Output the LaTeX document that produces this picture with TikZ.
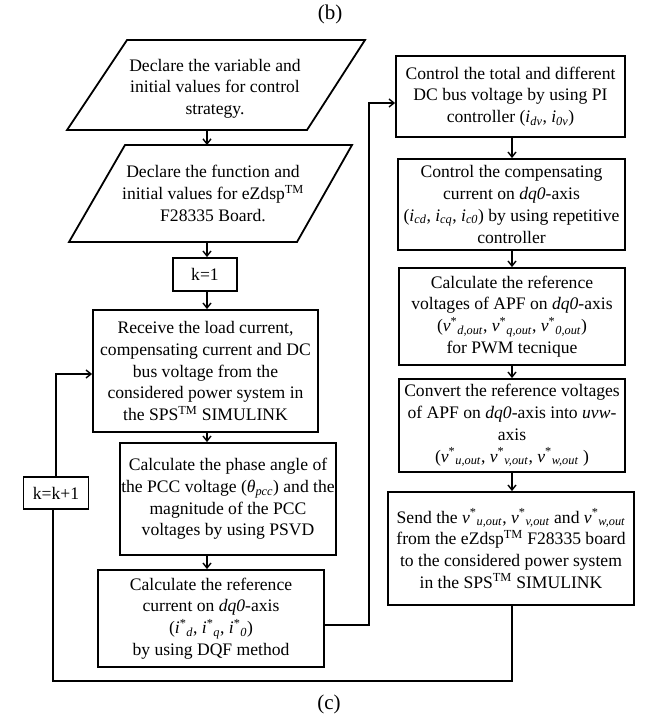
\documentclass[tikz,border=0pt]{standalone}
\usepackage{fontspec}
\setmainfont{Liberation Serif}
\usetikzlibrary{arrows.meta,calc}
\newcommand\bodyfs{\fontsize{17.6}{21.7}\selectfont}
\newcommand\capfs{\fontsize{21}{25}\selectfont}
\newcommand\tmk{\textsuperscript{TM}}
\newcommand\vst[1]{\textit{v}\textsuperscript{*}\textsubscript{\textit{#1}}}
\newcommand\ist[1]{\textit{i}\textsuperscript{*}\textsubscript{\textit{#1}}}
\newcommand\isb[1]{\textit{i}\textsubscript{\textit{#1}}}
\tikzset{
  box/.style={draw, line width=1.8pt, align=center, inner sep=1pt, font=\bodyfs},
  txt/.style={align=center, inner sep=1pt, font=\bodyfs},
  outline/.style={line width=1.8pt, line join=miter},
  arr/.style={line width=1.4pt, -{Straight Barb[length=5pt,width=8pt,line width=1.4pt]}},
  ln/.style={line width=1.4pt},
  captxt/.style={font=\capfs, inner sep=0pt}
}
\begin{document}
\begin{tikzpicture}[x=1pt,y=-1pt]
\useasboundingbox (0,0) rectangle (655,718);

% captions
\node[captxt] (capb) at (330,14) {(b)};
\node[captxt] (capc) at (329,704) {(c)};

% parallelograms
\draw[outline] (127,40) -- (365,40) -- (307,130) -- (67,130) -- cycle;
\node[txt] (p1) at (215,88.5) {Declare the variable and\\initial values for control\\strategy.};
\draw[outline] (125,145) -- (352,145) -- (297,242) -- (69,242) -- cycle;
\node[txt] (p2) at (213,193.5) {Declare the function and\\initial values for eZdsp\tmk\\F28335 Board.};

% left column
\node[box, minimum width=64pt, minimum height=33pt] (k1) at (205,274.5) {k=1};
\node[box, minimum width=225pt, minimum height=122pt] (rec) at (205.5,371)
  {Receive the load current,\\compensating current and DC\\bus voltage from the\\considered power system in\\the SPS\tmk{} SIMULINK};
\node[box, minimum width=210pt, minimum height=112pt] (phase) at (228,499)
  {Calculate the phase angle of\\the PCC voltage (\textit{θ}\textsubscript{\textit{pcc}}) and the\\magnitude of the PCC\\voltages by using PSVD};
\node[box, minimum width=226pt, minimum height=97pt] (dqf) at (211,618.5)
  {Calculate the reference\\current on \textit{dq0}-axis\\(\ist{d}, \ist{q}, \ist{0})\\by using DQF method};
\node[box, minimum width=65pt, minimum height=32pt] (kk1) at (56,493) {k=k+1};

% right column
\node[box, minimum width=229pt, minimum height=81pt] (ct) at (510.5,96.5)
  {Control the total and different\\DC bus voltage by using PI\\controller (\isb{dv}, \isb{0v})};
\node[box, minimum width=227pt, minimum height=91pt] (cc) at (511.5,204.5)
  {Control the compensating\\current on \textit{dq0}-axis\\(\isb{cd}, \isb{cq}, \isb{c0}) by using repetitive\\controller};
\node[box, minimum width=226pt, minimum height=97pt] (crv) at (512,316.5)
  {Calculate the reference\\voltages of APF on \textit{dq0}-axis\\(\vst{d,out}, \vst{q,out}, \vst{0,out})\\for PWM tecnique};
\node[box, minimum width=226pt, minimum height=93pt] (cv) at (512,425.5)
  {Convert the reference voltages\\of APF on \textit{dq0}-axis into \textit{uvw}-\\axis\\(\vst{u,out}, \vst{v,out}, \vst{w,out} )};
\node[box, minimum width=246pt, minimum height=113pt] (sd) at (511,548.5)
  {Send the \vst{u,out}, \vst{v,out} and \vst{w,out}\\from the eZdsp\tmk{} F28335 board\\to the considered power system\\in the SPS\tmk{} SIMULINK};

% connector coordinates
\coordinate (p1b) at (207,130);
\coordinate (p2t) at (207,145);
\coordinate (p2b) at (207,242);
\coordinate (lc) at (207,0);
\coordinate (rc) at (512,0);
\coordinate (vx) at (369,0);
\coordinate (bot) at (0,681);
\coordinate (dqo) at ([yshift=-6.5pt]dqf.east);
\coordinate (ctin) at ([yshift=-6.5pt]ct.west);
\coordinate (recin) at ([yshift=-3pt]rec.west);
\coordinate (kklo) at ([xshift=-3pt]kk1.south);

% left arrows
\draw[arr] (p1b) -- (p2t);
\draw[arr] (p2b) -- (k1.north -| p2b);
\draw[arr] (k1.south -| lc) -- (rec.north -| lc);
\draw[arr] (rec.south -| lc) -- (phase.north -| lc);
\draw[arr] (phase.south -| lc) -- (dqf.north -| lc);

% right arrows
\draw[arr] (ct.south -| rc) -- (cc.north -| rc);
\draw[arr] (cc.south -| rc) -- (crv.north -| rc);
\draw[arr] (crv.south -| rc) -- (cv.north -| rc);
\draw[arr] (cv.south -| rc) -- (sd.north -| rc);

% DQF to right column
\draw[arr] (dqo) -- (dqo -| vx) |- (ctin);

% loop back
\draw[ln] (sd.south -| rc) -- (rc |- bot) -| (kklo);
\draw[arr] (kk1.north) |- (recin);
\end{tikzpicture}
\end{document}
